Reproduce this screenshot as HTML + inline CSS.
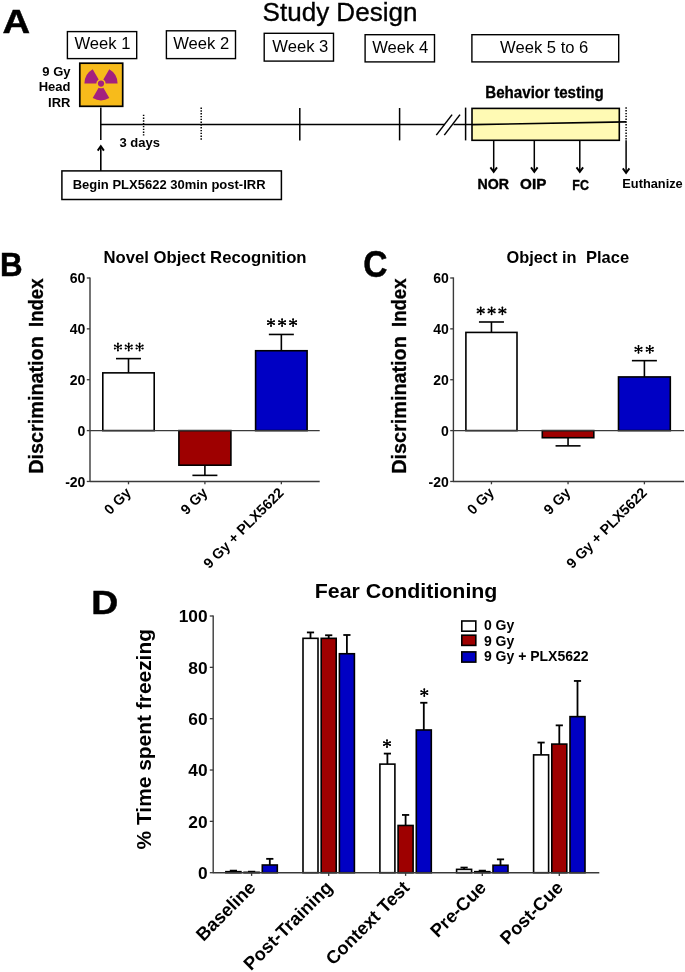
<!DOCTYPE html>
<html><head><meta charset="utf-8"><title>Figure</title>
<style>
html,body{margin:0;padding:0;background:#fff;}
body{width:685px;height:972px;overflow:hidden;font-family:"Liberation Sans",sans-serif;}
svg{display:block;position:absolute;left:0;top:0;will-change:transform;transform:translateZ(0);}
text{font-family:"Liberation Sans",sans-serif;fill:#000;}
.b{font-weight:bold;}
</style></head><body>
<svg width="685" height="972" viewBox="0 0 685 972">
<rect x="0" y="0" width="685" height="972" fill="#ffffff"/>
<!-- Panel A -->
<text x="2.6" y="33.2" font-size="34" class="b" textLength="27.6" lengthAdjust="spacingAndGlyphs" stroke="#000" stroke-width="0.5">A</text>
<text x="262.6" y="21" font-size="26" textLength="154.8" lengthAdjust="spacingAndGlyphs" stroke="#000" stroke-width="0.35">Study Design</text>
<rect x="67.4" y="31.6" width="69.3" height="27.0" fill="#fff" stroke="#000" stroke-width="1.4"/>
<text x="102.4" y="49.2" font-size="16.6" text-anchor="middle" >Week 1</text>
<rect x="166.4" y="30.8" width="69.1" height="27.8" fill="#fff" stroke="#000" stroke-width="1.4"/>
<text x="201.2" y="49.2" font-size="16.6" text-anchor="middle" >Week 2</text>
<rect x="264.2" y="33.3" width="69.3" height="27.8" fill="#fff" stroke="#000" stroke-width="1.4"/>
<text x="300.3" y="51.9" font-size="16.6" text-anchor="middle" >Week 3</text>
<rect x="365.1" y="34.7" width="69.4" height="27.2" fill="#fff" stroke="#000" stroke-width="1.4"/>
<text x="400.2" y="52.7" font-size="16.6" text-anchor="middle" >Week 4</text>
<rect x="471.9" y="34.7" width="146.8" height="27.2" fill="#fff" stroke="#000" stroke-width="1.4"/>
<text x="544.2" y="52.7" font-size="16.6" text-anchor="middle" >Week 5 to 6</text>
<text x="70.5" y="76.0" font-size="13" class="b" text-anchor="end" >9 Gy</text>
<text x="70.5" y="91.4" font-size="13" class="b" text-anchor="end" >Head</text>
<text x="70.5" y="106.9" font-size="13" class="b" text-anchor="end" >IRR</text>
<rect x="79.8" y="63.2" width="42.9" height="43.1" fill="#F7BB1B" stroke="#000" stroke-width="1.7"/>
<path d="M103.35,87.67 L109.30,97.98 A16.6,16.6 0 0 1 92.70,97.98 L98.65,87.67 A4.7,4.7 0 0 0 103.35,87.67 Z M96.30,83.60 L84.40,83.60 A16.6,16.6 0 0 1 92.70,69.22 L98.65,79.53 A4.7,4.7 0 0 0 96.30,83.60 Z M103.35,79.53 L109.30,69.22 A16.6,16.6 0 0 1 117.60,83.60 L105.70,83.60 A4.7,4.7 0 0 0 103.35,79.53 Z" fill="#A3217F"/>
<circle cx="101.0" cy="83.6" r="3.1" fill="#A3217F"/>
<line x1="100.8" y1="107.5" x2="100.8" y2="140" stroke="#000" stroke-width="1.5" />
<line x1="100.8" y1="124.6" x2="445" y2="124.6" stroke="#000" stroke-width="1.5" />
<line x1="143.6" y1="114.7" x2="143.6" y2="135.6" stroke="#000" stroke-width="1.5" stroke-dasharray="1.4 1.4"/>
<line x1="201.2" y1="107.5" x2="201.2" y2="140.3" stroke="#000" stroke-width="1.5" stroke-dasharray="1.4 1.4"/>
<line x1="299.8" y1="108" x2="299.8" y2="140.4" stroke="#000" stroke-width="1.5" />
<line x1="399.6" y1="108" x2="399.6" y2="140.4" stroke="#000" stroke-width="1.5" />
<line x1="436.3" y1="135.1" x2="452.1" y2="114.6" stroke="#000" stroke-width="1.5" />
<line x1="444.3" y1="135.1" x2="460.0" y2="114.6" stroke="#000" stroke-width="1.5" />
<line x1="453.5" y1="124.5" x2="472" y2="124.5" stroke="#000" stroke-width="1.5" />
<line x1="465.6" y1="107.6" x2="465.6" y2="140.4" stroke="#000" stroke-width="1.5" />
<rect x="472" y="108.4" width="147.3" height="31.9" fill="#FFFAB4" stroke="#000" stroke-width="1.6"/>
<line x1="472" y1="124.6" x2="626" y2="121.9" stroke="#000" stroke-width="1.6" />
<text x="544.5" y="97.9" font-size="16" class="b" text-anchor="middle" textLength="118.5" lengthAdjust="spacingAndGlyphs" stroke="#000" stroke-width="0.3">Behavior testing</text>
<line x1="626.1" y1="107.3" x2="626.1" y2="140.3" stroke="#000" stroke-width="1.5" stroke-dasharray="1.4 1.4"/>
<line x1="493.7" y1="140.3" x2="493.7" y2="171.5" stroke="#000" stroke-width="1.5" />
<path d="M490.4,167.4 L493.7,171.8 L497.0,167.4" fill="none" stroke="#000" stroke-width="1.9"/>
<line x1="534.3" y1="140.3" x2="534.3" y2="171.5" stroke="#000" stroke-width="1.5" />
<path d="M531.0,167.4 L534.3,171.8 L537.5999999999999,167.4" fill="none" stroke="#000" stroke-width="1.9"/>
<line x1="579.8" y1="140.3" x2="579.8" y2="171.5" stroke="#000" stroke-width="1.5" />
<path d="M576.5,167.4 L579.8,171.8 L583.0999999999999,167.4" fill="none" stroke="#000" stroke-width="1.9"/>
<line x1="626.1" y1="140.3" x2="626.1" y2="172.5" stroke="#000" stroke-width="1.5" />
<path d="M622.8000000000001,168.4 L626.1,172.8 L629.4,168.4" fill="none" stroke="#000" stroke-width="1.9"/>
<text x="493.3" y="188.7" font-size="15" class="b" text-anchor="middle" textLength="31.5" lengthAdjust="spacingAndGlyphs" stroke="#000" stroke-width="0.4">NOR</text>
<text x="533.2" y="188.7" font-size="15" class="b" text-anchor="middle" textLength="26.2" lengthAdjust="spacingAndGlyphs" stroke="#000" stroke-width="0.4">OIP</text>
<text x="580.6" y="189.7" font-size="15" class="b" text-anchor="middle" textLength="16.5" lengthAdjust="spacingAndGlyphs" stroke="#000" stroke-width="0.4">FC</text>
<text x="622.3" y="187.7" font-size="12.8" class="b" >Euthanize</text>
<text x="119.4" y="147.1" font-size="13" class="b" >3 days</text>
<line x1="100.8" y1="146.6" x2="100.8" y2="171" stroke="#000" stroke-width="1.6" />
<path d="M97.7,150.6 L100.8,146.2 L103.9,150.6" fill="none" stroke="#000" stroke-width="1.9"/>
<rect x="61.9" y="170.9" width="219.5" height="28.6" fill="#fff" stroke="#000" stroke-width="1.5"/>
<text x="72.7" y="189.3" font-size="13" class="b" >Begin PLX5622 30min post-IRR</text>
<!-- Panel B -->
<text x="0.0" y="276.4" font-size="33" class="b" textLength="22.6" lengthAdjust="spacingAndGlyphs" stroke="#000" stroke-width="0.5">B</text>
<text x="103.4" y="263.1" font-size="16.2" class="b" textLength="203.2" lengthAdjust="spacingAndGlyphs">Novel Object Recognition</text>
<text transform="translate(42.8,473.7) rotate(-90)" font-size="20" class="b" textLength="137.5" lengthAdjust="spacingAndGlyphs" stroke="#000" stroke-width="0.3">Discrimination</text>
<text transform="translate(42.8,327.0) rotate(-90)" font-size="20" class="b" textLength="48.5" lengthAdjust="spacingAndGlyphs" stroke="#000" stroke-width="0.3">Index</text>
<line x1="128.5" y1="372.86255000000006" x2="128.5" y2="358.61895000000004" stroke="#000" stroke-width="1.6" />
<line x1="116.0" y1="358.61895000000004" x2="141.0" y2="358.61895000000004" stroke="#000" stroke-width="1.6" />
<rect x="102.8" y="372.86255000000006" width="51.39999999999999" height="57.73744999999997" fill="#fff" stroke="#000" stroke-width="1.6"/>
<line x1="204.9" y1="465.1916" x2="204.9" y2="475.36560000000003" stroke="#000" stroke-width="1.6" />
<line x1="192.4" y1="475.36560000000003" x2="217.4" y2="475.36560000000003" stroke="#000" stroke-width="1.6" />
<rect x="178.9" y="430.6" width="52.0" height="34.59159999999997" fill="#9E0000" stroke="#000" stroke-width="1.6"/>
<line x1="281.35" y1="350.7341" x2="281.35" y2="334.45570000000004" stroke="#000" stroke-width="1.6" />
<line x1="268.85" y1="334.45570000000004" x2="293.85" y2="334.45570000000004" stroke="#000" stroke-width="1.6" />
<rect x="255.6" y="350.7341" width="51.50000000000003" height="79.86590000000001" fill="#0000C4" stroke="#000" stroke-width="1.6"/>
<line x1="90.0" y1="277.4" x2="90.0" y2="482.1" stroke="#3a3a3a" stroke-width="1.4" />
<line x1="90.0" y1="481.5" x2="319.7" y2="481.5" stroke="#3a3a3a" stroke-width="1.3" />
<line x1="90.0" y1="430.6" x2="319.7" y2="430.6" stroke="#3a3a3a" stroke-width="1.3" />
<line x1="86.8" y1="277.99" x2="90.0" y2="277.99" stroke="#3a3a3a" stroke-width="1.3" />
<text x="85.4" y="283.09000000000003" font-size="14" class="b" text-anchor="end" >60</text>
<line x1="86.8" y1="328.86" x2="90.0" y2="328.86" stroke="#3a3a3a" stroke-width="1.3" />
<text x="85.4" y="333.96000000000004" font-size="14" class="b" text-anchor="end" >40</text>
<line x1="86.8" y1="379.73" x2="90.0" y2="379.73" stroke="#3a3a3a" stroke-width="1.3" />
<text x="85.4" y="384.83000000000004" font-size="14" class="b" text-anchor="end" >20</text>
<line x1="86.8" y1="430.6" x2="90.0" y2="430.6" stroke="#3a3a3a" stroke-width="1.3" />
<text x="85.4" y="435.70000000000005" font-size="14" class="b" text-anchor="end" >0</text>
<line x1="86.8" y1="481.47" x2="90.0" y2="481.47" stroke="#3a3a3a" stroke-width="1.3" />
<text x="85.4" y="486.57000000000005" font-size="14" class="b" text-anchor="end" >-20</text>
<line x1="128.5" y1="481.5" x2="128.5" y2="484.3" stroke="#3a3a3a" stroke-width="1.3" />
<line x1="204.9" y1="481.5" x2="204.9" y2="484.3" stroke="#3a3a3a" stroke-width="1.3" />
<line x1="281.35" y1="481.5" x2="281.35" y2="484.3" stroke="#3a3a3a" stroke-width="1.3" />
<circle cx="117.90" cy="343.55" r="0.95" fill="#000"/><circle cx="117.90" cy="350.45" r="0.95" fill="#000"/><circle cx="114.80" cy="345.49" r="0.95" fill="#000"/><circle cx="121.00" cy="348.51" r="0.95" fill="#000"/><circle cx="114.80" cy="348.51" r="0.95" fill="#000"/><circle cx="121.00" cy="345.49" r="0.95" fill="#000"/><path d="M117.90,343.55 L117.90,350.45 M114.80,345.49 L121.00,348.51 M114.80,348.51 L121.00,345.49 " fill="none" stroke="#000" stroke-width="1.3" stroke-linecap="round"/>
<circle cx="117.9" cy="347.0" r="1.2" fill="#000"/>
<circle cx="128.70" cy="343.55" r="0.95" fill="#000"/><circle cx="128.70" cy="350.45" r="0.95" fill="#000"/><circle cx="125.60" cy="345.49" r="0.95" fill="#000"/><circle cx="131.80" cy="348.51" r="0.95" fill="#000"/><circle cx="125.60" cy="348.51" r="0.95" fill="#000"/><circle cx="131.80" cy="345.49" r="0.95" fill="#000"/><path d="M128.70,343.55 L128.70,350.45 M125.60,345.49 L131.80,348.51 M125.60,348.51 L131.80,345.49 " fill="none" stroke="#000" stroke-width="1.3" stroke-linecap="round"/>
<circle cx="128.7" cy="347.0" r="1.2" fill="#000"/>
<circle cx="139.60" cy="343.55" r="0.95" fill="#000"/><circle cx="139.60" cy="350.45" r="0.95" fill="#000"/><circle cx="136.50" cy="345.49" r="0.95" fill="#000"/><circle cx="142.70" cy="348.51" r="0.95" fill="#000"/><circle cx="136.50" cy="348.51" r="0.95" fill="#000"/><circle cx="142.70" cy="345.49" r="0.95" fill="#000"/><path d="M139.60,343.55 L139.60,350.45 M136.50,345.49 L142.70,348.51 M136.50,348.51 L142.70,345.49 " fill="none" stroke="#000" stroke-width="1.3" stroke-linecap="round"/>
<circle cx="139.6" cy="347.0" r="1.2" fill="#000"/>
<circle cx="271.00" cy="319.15" r="0.95" fill="#000"/><circle cx="271.00" cy="326.05" r="0.95" fill="#000"/><circle cx="267.90" cy="321.09" r="0.95" fill="#000"/><circle cx="274.10" cy="324.11" r="0.95" fill="#000"/><circle cx="267.90" cy="324.11" r="0.95" fill="#000"/><circle cx="274.10" cy="321.09" r="0.95" fill="#000"/><path d="M271.00,319.15 L271.00,326.05 M267.90,321.09 L274.10,324.11 M267.90,324.11 L274.10,321.09 " fill="none" stroke="#000" stroke-width="1.3" stroke-linecap="round"/>
<circle cx="271.0" cy="322.6" r="1.2" fill="#000"/>
<circle cx="282.10" cy="319.15" r="0.95" fill="#000"/><circle cx="282.10" cy="326.05" r="0.95" fill="#000"/><circle cx="279.00" cy="321.09" r="0.95" fill="#000"/><circle cx="285.20" cy="324.11" r="0.95" fill="#000"/><circle cx="279.00" cy="324.11" r="0.95" fill="#000"/><circle cx="285.20" cy="321.09" r="0.95" fill="#000"/><path d="M282.10,319.15 L282.10,326.05 M279.00,321.09 L285.20,324.11 M279.00,324.11 L285.20,321.09 " fill="none" stroke="#000" stroke-width="1.3" stroke-linecap="round"/>
<circle cx="282.1" cy="322.6" r="1.2" fill="#000"/>
<circle cx="293.10" cy="319.15" r="0.95" fill="#000"/><circle cx="293.10" cy="326.05" r="0.95" fill="#000"/><circle cx="290.00" cy="321.09" r="0.95" fill="#000"/><circle cx="296.20" cy="324.11" r="0.95" fill="#000"/><circle cx="290.00" cy="324.11" r="0.95" fill="#000"/><circle cx="296.20" cy="321.09" r="0.95" fill="#000"/><path d="M293.10,319.15 L293.10,326.05 M290.00,321.09 L296.20,324.11 M290.00,324.11 L296.20,321.09 " fill="none" stroke="#000" stroke-width="1.3" stroke-linecap="round"/>
<circle cx="293.1" cy="322.6" r="1.2" fill="#000"/>
<text transform="translate(131.9,493.6) rotate(-45)" font-size="14.3" class="b" text-anchor="end">0 Gy</text>
<text transform="translate(208.3,493.6) rotate(-45)" font-size="14.3" class="b" text-anchor="end">9 Gy</text>
<text transform="translate(284.75,493.6) rotate(-45)" font-size="14.3" class="b" text-anchor="end">9 Gy + PLX5622</text>
<!-- Panel C -->
<text x="363.3" y="277.2" font-size="36" class="b" textLength="24.2" lengthAdjust="spacingAndGlyphs" stroke="#000" stroke-width="0.5">C</text>
<text x="506.5" y="263.1" font-size="16.2" class="b" textLength="70" lengthAdjust="spacingAndGlyphs">Object in</text><text x="586.0" y="263.1" font-size="16.2" class="b" textLength="43.2" lengthAdjust="spacingAndGlyphs">Place</text>
<text transform="translate(405.6,473.7) rotate(-90)" font-size="20" class="b" textLength="137.5" lengthAdjust="spacingAndGlyphs" stroke="#000" stroke-width="0.3">Discrimination</text>
<text transform="translate(405.6,327.0) rotate(-90)" font-size="20" class="b" textLength="48.5" lengthAdjust="spacingAndGlyphs" stroke="#000" stroke-width="0.3">Index</text>
<line x1="491.45" y1="332.4209" x2="491.45" y2="321.99255000000005" stroke="#000" stroke-width="1.6" />
<line x1="478.95" y1="321.99255000000005" x2="503.95" y2="321.99255000000005" stroke="#000" stroke-width="1.6" />
<rect x="465.9" y="332.4209" width="51.10000000000002" height="98.1791" fill="#fff" stroke="#000" stroke-width="1.6"/>
<line x1="568.05" y1="437.72180000000003" x2="568.05" y2="445.86100000000005" stroke="#000" stroke-width="1.6" />
<line x1="555.55" y1="445.86100000000005" x2="580.55" y2="445.86100000000005" stroke="#000" stroke-width="1.6" />
<rect x="542.3" y="430.6" width="51.5" height="7.1218000000000075" fill="#9E0000" stroke="#000" stroke-width="1.6"/>
<line x1="644.4" y1="376.93215000000004" x2="644.4" y2="360.65375000000006" stroke="#000" stroke-width="1.6" />
<line x1="631.9" y1="360.65375000000006" x2="656.9" y2="360.65375000000006" stroke="#000" stroke-width="1.6" />
<rect x="618.5" y="376.93215000000004" width="51.799999999999955" height="53.66784999999999" fill="#0000C4" stroke="#000" stroke-width="1.6"/>
<line x1="453.4" y1="277.4" x2="453.4" y2="482.1" stroke="#3a3a3a" stroke-width="1.4" />
<line x1="453.4" y1="481.5" x2="684" y2="481.5" stroke="#3a3a3a" stroke-width="1.3" />
<line x1="453.4" y1="430.6" x2="684" y2="430.6" stroke="#3a3a3a" stroke-width="1.3" />
<line x1="450.2" y1="277.99" x2="453.4" y2="277.99" stroke="#3a3a3a" stroke-width="1.3" />
<text x="448.79999999999995" y="283.09000000000003" font-size="14" class="b" text-anchor="end" >60</text>
<line x1="450.2" y1="328.86" x2="453.4" y2="328.86" stroke="#3a3a3a" stroke-width="1.3" />
<text x="448.79999999999995" y="333.96000000000004" font-size="14" class="b" text-anchor="end" >40</text>
<line x1="450.2" y1="379.73" x2="453.4" y2="379.73" stroke="#3a3a3a" stroke-width="1.3" />
<text x="448.79999999999995" y="384.83000000000004" font-size="14" class="b" text-anchor="end" >20</text>
<line x1="450.2" y1="430.6" x2="453.4" y2="430.6" stroke="#3a3a3a" stroke-width="1.3" />
<text x="448.79999999999995" y="435.70000000000005" font-size="14" class="b" text-anchor="end" >0</text>
<line x1="450.2" y1="481.47" x2="453.4" y2="481.47" stroke="#3a3a3a" stroke-width="1.3" />
<text x="448.79999999999995" y="486.57000000000005" font-size="14" class="b" text-anchor="end" >-20</text>
<line x1="491.45" y1="481.5" x2="491.45" y2="484.3" stroke="#3a3a3a" stroke-width="1.3" />
<line x1="568.05" y1="481.5" x2="568.05" y2="484.3" stroke="#3a3a3a" stroke-width="1.3" />
<line x1="644.4" y1="481.5" x2="644.4" y2="484.3" stroke="#3a3a3a" stroke-width="1.3" />
<circle cx="480.70" cy="307.45" r="0.95" fill="#000"/><circle cx="480.70" cy="314.35" r="0.95" fill="#000"/><circle cx="477.60" cy="309.39" r="0.95" fill="#000"/><circle cx="483.80" cy="312.41" r="0.95" fill="#000"/><circle cx="477.60" cy="312.41" r="0.95" fill="#000"/><circle cx="483.80" cy="309.39" r="0.95" fill="#000"/><path d="M480.70,307.45 L480.70,314.35 M477.60,309.39 L483.80,312.41 M477.60,312.41 L483.80,309.39 " fill="none" stroke="#000" stroke-width="1.3" stroke-linecap="round"/>
<circle cx="480.7" cy="310.9" r="1.2" fill="#000"/>
<circle cx="491.60" cy="307.45" r="0.95" fill="#000"/><circle cx="491.60" cy="314.35" r="0.95" fill="#000"/><circle cx="488.50" cy="309.39" r="0.95" fill="#000"/><circle cx="494.70" cy="312.41" r="0.95" fill="#000"/><circle cx="488.50" cy="312.41" r="0.95" fill="#000"/><circle cx="494.70" cy="309.39" r="0.95" fill="#000"/><path d="M491.60,307.45 L491.60,314.35 M488.50,309.39 L494.70,312.41 M488.50,312.41 L494.70,309.39 " fill="none" stroke="#000" stroke-width="1.3" stroke-linecap="round"/>
<circle cx="491.6" cy="310.9" r="1.2" fill="#000"/>
<circle cx="502.40" cy="307.45" r="0.95" fill="#000"/><circle cx="502.40" cy="314.35" r="0.95" fill="#000"/><circle cx="499.30" cy="309.39" r="0.95" fill="#000"/><circle cx="505.50" cy="312.41" r="0.95" fill="#000"/><circle cx="499.30" cy="312.41" r="0.95" fill="#000"/><circle cx="505.50" cy="309.39" r="0.95" fill="#000"/><path d="M502.40,307.45 L502.40,314.35 M499.30,309.39 L505.50,312.41 M499.30,312.41 L505.50,309.39 " fill="none" stroke="#000" stroke-width="1.3" stroke-linecap="round"/>
<circle cx="502.4" cy="310.9" r="1.2" fill="#000"/>
<circle cx="638.50" cy="345.85" r="0.95" fill="#000"/><circle cx="638.50" cy="352.75" r="0.95" fill="#000"/><circle cx="635.40" cy="347.79" r="0.95" fill="#000"/><circle cx="641.60" cy="350.81" r="0.95" fill="#000"/><circle cx="635.40" cy="350.81" r="0.95" fill="#000"/><circle cx="641.60" cy="347.79" r="0.95" fill="#000"/><path d="M638.50,345.85 L638.50,352.75 M635.40,347.79 L641.60,350.81 M635.40,350.81 L641.60,347.79 " fill="none" stroke="#000" stroke-width="1.3" stroke-linecap="round"/>
<circle cx="638.5" cy="349.3" r="1.2" fill="#000"/>
<circle cx="649.75" cy="345.85" r="0.95" fill="#000"/><circle cx="649.75" cy="352.75" r="0.95" fill="#000"/><circle cx="646.65" cy="347.79" r="0.95" fill="#000"/><circle cx="652.85" cy="350.81" r="0.95" fill="#000"/><circle cx="646.65" cy="350.81" r="0.95" fill="#000"/><circle cx="652.85" cy="347.79" r="0.95" fill="#000"/><path d="M649.75,345.85 L649.75,352.75 M646.65,347.79 L652.85,350.81 M646.65,350.81 L652.85,347.79 " fill="none" stroke="#000" stroke-width="1.3" stroke-linecap="round"/>
<circle cx="649.75" cy="349.3" r="1.2" fill="#000"/>
<text transform="translate(494.84999999999997,493.6) rotate(-45)" font-size="14.3" class="b" text-anchor="end">0 Gy</text>
<text transform="translate(571.4499999999999,493.6) rotate(-45)" font-size="14.3" class="b" text-anchor="end">9 Gy</text>
<text transform="translate(647.8,493.6) rotate(-45)" font-size="14.3" class="b" text-anchor="end">9 Gy + PLX5622</text>
<!-- Panel D -->
<text x="91.3" y="614.0" font-size="33.5" class="b" textLength="27" lengthAdjust="spacingAndGlyphs" stroke="#000" stroke-width="0.5">D</text>
<text x="314.8" y="598" font-size="20" class="b" textLength="182.6" lengthAdjust="spacingAndGlyphs" >Fear Conditioning</text>
<text transform="translate(150.5,849.5) rotate(-90)" font-size="21" class="b" textLength="220.5" lengthAdjust="spacingAndGlyphs">% Time spent freezing</text>
<line x1="233.4" y1="871.6732000000001" x2="233.4" y2="870.6464000000001" stroke="#000" stroke-width="1.8" />
<line x1="229.8" y1="870.6464000000001" x2="237.0" y2="870.6464000000001" stroke="#000" stroke-width="1.8" />
<rect x="225.9" y="871.6732000000001" width="15.0" height="1.0267999999999802" fill="#fff" stroke="#000" stroke-width="1.6"/>
<line x1="251.6" y1="872.3149500000001" x2="251.6" y2="871.6732000000001" stroke="#000" stroke-width="1.8" />
<line x1="248.0" y1="871.6732000000001" x2="255.2" y2="871.6732000000001" stroke="#000" stroke-width="1.8" />
<rect x="244.1" y="872.3149500000001" width="15.0" height="0.38504999999997835" fill="#9E0000" stroke="#000" stroke-width="1.6"/>
<line x1="269.8" y1="864.999" x2="269.8" y2="858.8382" stroke="#000" stroke-width="1.8" />
<line x1="266.2" y1="858.8382" x2="273.40000000000003" y2="858.8382" stroke="#000" stroke-width="1.8" />
<rect x="262.3" y="864.999" width="15.0" height="7.701000000000022" fill="#0000C4" stroke="#000" stroke-width="1.6"/>
<line x1="310.5" y1="638.3329" x2="310.5" y2="632.4288" stroke="#000" stroke-width="1.8" />
<line x1="306.9" y1="632.4288" x2="314.1" y2="632.4288" stroke="#000" stroke-width="1.8" />
<rect x="303.0" y="638.3329" width="15.0" height="234.36710000000005" fill="#fff" stroke="#000" stroke-width="1.6"/>
<line x1="328.7" y1="638.3329" x2="328.7" y2="635.2525" stroke="#000" stroke-width="1.8" />
<line x1="325.09999999999997" y1="635.2525" x2="332.3" y2="635.2525" stroke="#000" stroke-width="1.8" />
<rect x="321.2" y="638.3329" width="15.0" height="234.36710000000005" fill="#9E0000" stroke="#000" stroke-width="1.6"/>
<line x1="346.9" y1="653.7349" x2="346.9" y2="634.9958" stroke="#000" stroke-width="1.8" />
<line x1="343.29999999999995" y1="634.9958" x2="350.5" y2="634.9958" stroke="#000" stroke-width="1.8" />
<rect x="339.4" y="653.7349" width="15.0" height="218.9651" fill="#0000C4" stroke="#000" stroke-width="1.6"/>
<line x1="387.40000000000003" y1="764.1159" x2="387.40000000000003" y2="753.5912000000001" stroke="#000" stroke-width="1.8" />
<line x1="383.8" y1="753.5912000000001" x2="391.00000000000006" y2="753.5912000000001" stroke="#000" stroke-width="1.8" />
<rect x="379.90000000000003" y="764.1159" width="15.0" height="108.58410000000003" fill="#fff" stroke="#000" stroke-width="1.6"/>
<line x1="405.6" y1="825.4672" x2="405.6" y2="814.9425" stroke="#000" stroke-width="1.8" />
<line x1="402.0" y1="814.9425" x2="409.20000000000005" y2="814.9425" stroke="#000" stroke-width="1.8" />
<rect x="398.1" y="825.4672" width="15.0" height="47.2328" fill="#9E0000" stroke="#000" stroke-width="1.6"/>
<line x1="423.8" y1="729.9748" x2="423.8" y2="702.7646" stroke="#000" stroke-width="1.8" />
<line x1="420.2" y1="702.7646" x2="427.40000000000003" y2="702.7646" stroke="#000" stroke-width="1.8" />
<rect x="416.3" y="729.9748" width="15.0" height="142.7252000000001" fill="#0000C4" stroke="#000" stroke-width="1.6"/>
<line x1="464.1" y1="869.3629000000001" x2="464.1" y2="867.566" stroke="#000" stroke-width="1.8" />
<line x1="460.5" y1="867.566" x2="467.70000000000005" y2="867.566" stroke="#000" stroke-width="1.8" />
<rect x="456.6" y="869.3629000000001" width="15.0" height="3.337099999999964" fill="#fff" stroke="#000" stroke-width="1.6"/>
<line x1="482.3" y1="871.6732000000001" x2="482.3" y2="870.6464000000001" stroke="#000" stroke-width="1.8" />
<line x1="478.7" y1="870.6464000000001" x2="485.90000000000003" y2="870.6464000000001" stroke="#000" stroke-width="1.8" />
<rect x="474.8" y="871.6732000000001" width="15.0" height="1.0267999999999802" fill="#9E0000" stroke="#000" stroke-width="1.6"/>
<line x1="500.5" y1="865.2557" x2="500.5" y2="859.3516000000001" stroke="#000" stroke-width="1.8" />
<line x1="496.9" y1="859.3516000000001" x2="504.1" y2="859.3516000000001" stroke="#000" stroke-width="1.8" />
<rect x="493.0" y="865.2557" width="15.0" height="7.444299999999998" fill="#0000C4" stroke="#000" stroke-width="1.6"/>
<line x1="541.0999999999999" y1="754.8747000000001" x2="541.0999999999999" y2="742.5531000000001" stroke="#000" stroke-width="1.8" />
<line x1="537.4999999999999" y1="742.5531000000001" x2="544.6999999999999" y2="742.5531000000001" stroke="#000" stroke-width="1.8" />
<rect x="533.5999999999999" y="754.8747000000001" width="15.0" height="117.82529999999997" fill="#fff" stroke="#000" stroke-width="1.6"/>
<line x1="559.3" y1="744.0933" x2="559.3" y2="725.3542" stroke="#000" stroke-width="1.8" />
<line x1="555.6999999999999" y1="725.3542" x2="562.9" y2="725.3542" stroke="#000" stroke-width="1.8" />
<rect x="551.8" y="744.0933" width="15.0" height="128.60670000000005" fill="#9E0000" stroke="#000" stroke-width="1.6"/>
<line x1="577.5" y1="716.6264" x2="577.5" y2="680.9451" stroke="#000" stroke-width="1.8" />
<line x1="573.9" y1="680.9451" x2="581.1" y2="680.9451" stroke="#000" stroke-width="1.8" />
<rect x="570.0" y="716.6264" width="15.0" height="156.07360000000006" fill="#0000C4" stroke="#000" stroke-width="1.6"/>
<line x1="213.2" y1="615.4" x2="213.2" y2="873.3000000000001" stroke="#3a3a3a" stroke-width="1.4" />
<line x1="213.2" y1="872.7" x2="599.3" y2="872.7" stroke="#3a3a3a" stroke-width="1.4" />
<line x1="209.79999999999998" y1="872.7" x2="213.2" y2="872.7" stroke="#3a3a3a" stroke-width="1.3" />
<text x="207.6" y="878.9000000000001" font-size="17.3" class="b" text-anchor="end" >0</text>
<line x1="209.79999999999998" y1="821.36" x2="213.2" y2="821.36" stroke="#3a3a3a" stroke-width="1.3" />
<text x="207.6" y="827.5600000000001" font-size="17.3" class="b" text-anchor="end" >20</text>
<line x1="209.79999999999998" y1="770.02" x2="213.2" y2="770.02" stroke="#3a3a3a" stroke-width="1.3" />
<text x="207.6" y="776.22" font-size="17.3" class="b" text-anchor="end" >40</text>
<line x1="209.79999999999998" y1="718.6800000000001" x2="213.2" y2="718.6800000000001" stroke="#3a3a3a" stroke-width="1.3" />
<text x="207.6" y="724.8800000000001" font-size="17.3" class="b" text-anchor="end" >60</text>
<line x1="209.79999999999998" y1="667.34" x2="213.2" y2="667.34" stroke="#3a3a3a" stroke-width="1.3" />
<text x="207.6" y="673.5400000000001" font-size="17.3" class="b" text-anchor="end" >80</text>
<line x1="209.79999999999998" y1="616.0" x2="213.2" y2="616.0" stroke="#3a3a3a" stroke-width="1.3" />
<text x="207.6" y="622.2" font-size="17.3" class="b" text-anchor="end" >100</text>
<line x1="251.6" y1="872.7" x2="251.6" y2="875.9000000000001" stroke="#3a3a3a" stroke-width="1.3" />
<line x1="328.7" y1="872.7" x2="328.7" y2="875.9000000000001" stroke="#3a3a3a" stroke-width="1.3" />
<line x1="405.6" y1="872.7" x2="405.6" y2="875.9000000000001" stroke="#3a3a3a" stroke-width="1.3" />
<line x1="482.3" y1="872.7" x2="482.3" y2="875.9000000000001" stroke="#3a3a3a" stroke-width="1.3" />
<line x1="559.3" y1="872.7" x2="559.3" y2="875.9000000000001" stroke="#3a3a3a" stroke-width="1.3" />
<text transform="translate(256.6,888.7) rotate(-45)" font-size="18.3" class="b" text-anchor="end">Baseline</text>
<text transform="translate(333.7,888.7) rotate(-45)" font-size="18.3" class="b" text-anchor="end">Post-Training</text>
<text transform="translate(410.6,888.7) rotate(-45)" font-size="18.3" class="b" text-anchor="end">Context Test</text>
<text transform="translate(487.3,888.7) rotate(-45)" font-size="18.3" class="b" text-anchor="end">Pre-Cue</text>
<text transform="translate(564.3,888.7) rotate(-45)" font-size="18.3" class="b" text-anchor="end">Post-Cue</text>
<circle cx="387.00" cy="740.15" r="0.95" fill="#000"/><circle cx="387.00" cy="747.05" r="0.95" fill="#000"/><circle cx="383.90" cy="742.09" r="0.95" fill="#000"/><circle cx="390.10" cy="745.11" r="0.95" fill="#000"/><circle cx="383.90" cy="745.11" r="0.95" fill="#000"/><circle cx="390.10" cy="742.09" r="0.95" fill="#000"/><path d="M387.00,740.15 L387.00,747.05 M383.90,742.09 L390.10,745.11 M383.90,745.11 L390.10,742.09 " fill="none" stroke="#000" stroke-width="1.3" stroke-linecap="round"/>
<circle cx="387.0" cy="743.6" r="1.2" fill="#000"/>
<circle cx="424.30" cy="689.15" r="0.95" fill="#000"/><circle cx="424.30" cy="696.05" r="0.95" fill="#000"/><circle cx="421.20" cy="691.09" r="0.95" fill="#000"/><circle cx="427.40" cy="694.11" r="0.95" fill="#000"/><circle cx="421.20" cy="694.11" r="0.95" fill="#000"/><circle cx="427.40" cy="691.09" r="0.95" fill="#000"/><path d="M424.30,689.15 L424.30,696.05 M421.20,691.09 L427.40,694.11 M421.20,694.11 L427.40,691.09 " fill="none" stroke="#000" stroke-width="1.3" stroke-linecap="round"/>
<circle cx="424.3" cy="692.6" r="1.2" fill="#000"/>
<rect x="461.8" y="621.0" width="14" height="10.2" fill="#fff" stroke="#000" stroke-width="1.6"/>
<text x="483.9" y="630.1" font-size="14" class="b" >0 Gy</text>
<rect x="461.8" y="635.2" width="14" height="10.2" fill="#9E0000" stroke="#000" stroke-width="1.6"/>
<text x="483.9" y="645.5" font-size="14" class="b" >9 Gy</text>
<rect x="461.8" y="651.9" width="14" height="10.2" fill="#0000C4" stroke="#000" stroke-width="1.6"/>
<text x="483.9" y="661.3" font-size="14" class="b" >9 Gy + PLX5622</text>
</svg>
</body></html>
